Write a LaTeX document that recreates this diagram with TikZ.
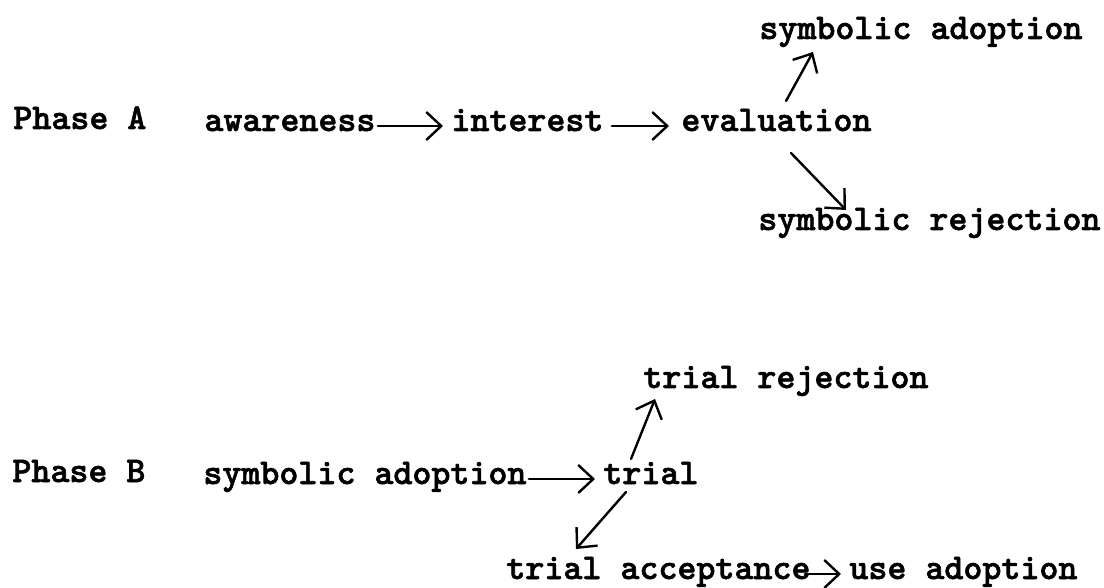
\documentclass[tikz,border=0pt]{standalone}
\usepackage{fontspec}
\newfontfamily\typew{lmmonolt10-bold}[Extension=.otf,FakeBold=1.6]
\usetikzlibrary{arrows.meta}
\begin{document}
\begin{tikzpicture}[x=0.5pt,y=-0.5pt]
		\tikzstyle{every node}+=[inner sep=0pt,anchor=base west,font=\fontsize{18.1}{20}\selectfont\typew]
		\tikzstyle{arr}=[line width=1.2pt,line cap=round,-{Straight Barb[length=7.5pt,width=14pt]}]
		\useasboundingbox (0,0) rectangle (1104,588);
		\node (phA) at (13,129) {Phase A};
		\node (aw) at (204,131) {awareness};
		\node (int) at (451,131) {interest};
		\node (ev) at (681,131) {evaluation};
		\node (symA) at (759,39) {symbolic adoption};
		\node (symR) at (758,230) {symbolic rejection};
		\node (trR) at (643,388) {trial rejection};
		\node (phB) at (12,482) {Phase B};
		\node (symB) at (203,484) {symbolic adoption};
		\node (tr) at (603,484) {trial};
		\node (trA) at (506,579) {trial acceptance};
		\node (useA) at (849,579) {use adoption};
		\draw [arr] ([xshift=1pt,yshift=2.5pt]aw.base east) -- ([xshift=-4pt,yshift=2.5pt]int.base west);
		\draw [arr] ([xshift=4pt,yshift=2.5pt]int.base east) -- ([xshift=-6pt,yshift=2.5pt]ev.base west);
		\draw [arr] ([xshift=52.5pt,yshift=15pt]ev.base west) -- ([xshift=27pt,yshift=-6.5pt]symA.base west);
		\draw [arr] ([xshift=55pt,yshift=-11pt]ev.base west) -- ([xshift=44pt,yshift=10pt]symR.base west);
		\draw [arr] ([xshift=1pt,yshift=2.5pt]symB.base east) -- ([xshift=-4pt,yshift=2.5pt]tr.base west);
		\draw [arr] ([xshift=14pt,yshift=12.5pt]tr.base west) -- ([xshift=6pt,yshift=-5.5pt]trR.base west);
		\draw [arr] ([xshift=11.5pt,yshift=-4pt]tr.base west) -- ([xshift=35pt,yshift=15pt]trA.base west);
		\draw [arr] ([xshift=-3pt,yshift=2.5pt]trA.base east) -- ([xshift=-4pt,yshift=2.5pt]useA.base west);
\end{tikzpicture}
\end{document}
